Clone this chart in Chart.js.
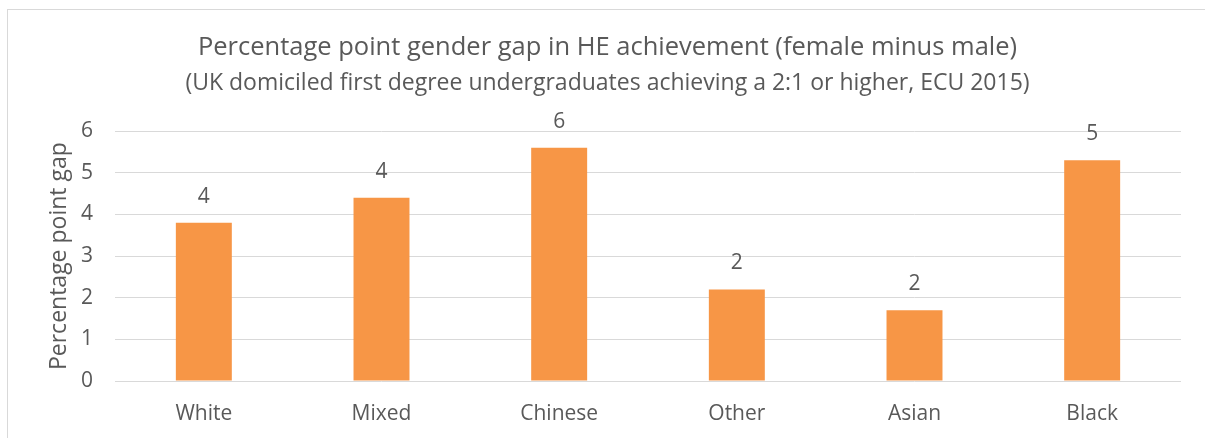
<!DOCTYPE html>
<html>
<head>
<meta charset="utf-8">
<script src="https://cdn.jsdelivr.net/npm/chart.js@4/dist/chart.umd.min.js"></script>
<style>
  body { margin: 0; background: #fff; }
  #wrap { width: 1205px; height: 438px; position: relative; }
</style>
</head>
<body>
<div id="wrap"><canvas id="gapChart" width="1205" height="438"></canvas></div>
<script>
const categories = ['White', 'Mixed', 'Chinese', 'Other', 'Asian', 'Black'];
const gapValues = [3.8, 4.4, 5.6, 2.2, 1.7, 5.3];
const yTicks = [0, 1, 2, 3, 4, 5, 6];

const textColor = '#595959';
const fontFamily = '"Open Sans", "Noto Sans", sans-serif';

// frame around the chart, like the exported Excel chart
const framePlugin = {
    id: 'frame',
    beforeDraw(chart) {
        const ctx = chart.ctx;
        ctx.save();
        ctx.fillStyle = '#fff';
        ctx.fillRect(0, 0, chart.width, chart.height);
        ctx.strokeStyle = '#d9d9d9';
        ctx.lineWidth = 1;
        ctx.strokeRect(7.5, 9.5, chart.width + 10, chart.height + 10);
        ctx.restore();
    }
};

// value labels above the bars (rounded, as in the original)
const valueLabels = {
    id: 'valueLabels',
    afterDatasetsDraw(chart) {
        const ctx = chart.ctx;
        const meta = chart.getDatasetMeta(0);
        ctx.save();
        ctx.fillStyle = textColor;
        ctx.font = '21px ' + fontFamily;
        ctx.textAlign = 'center';
        ctx.textBaseline = 'middle';
        meta.data.forEach((bar, i) => {
            ctx.fillText(Math.round(gapValues[i]), bar.x, bar.y - 26);
        });
        ctx.restore();
    }
};

const ctx = document.getElementById('gapChart').getContext('2d');
new Chart(ctx, {
    type: 'bar',
    data: {
        labels: categories,
        datasets: [{
            data: gapValues,
            backgroundColor: '#F79646',
            borderWidth: 0,
            barPercentage: 0.315,
            categoryPercentage: 1
        }]
    },
    options: {
        responsive: false,
        animation: false,
        layout: { padding: { top: 0, right: 0, bottom: 0, left: 10 } },
        plugins: {
            legend: { display: false },
            tooltip: { enabled: false },
            title: {
                display: true,
                text: 'Percentage point gender gap in HE achievement (female minus male)',
                color: textColor,
                font: { family: fontFamily, size: 25.5, weight: 'normal', lineHeight: 1.2 },
                padding: { top: 32, bottom: 0 }
            },
            subtitle: {
                display: true,
                text: '(UK domiciled first degree undergraduates achieving a 2:1 or higher, ECU 2015)',
                color: textColor,
                font: { family: fontFamily, size: 23, weight: 'normal', lineHeight: 1.2 },
                padding: { top: 7, bottom: 34 }
            }
        },
        scales: {
            x: {
                grid: { display: false },
                border: { display: false },
                ticks: {
                    color: textColor,
                    font: { family: fontFamily, size: 21 },
                    padding: 12
                },
                afterFit(scale) { scale.height = 57; }
            },
            y: {
                min: 0,
                max: 6,
                afterBuildTicks(scale) { scale.ticks = yTicks.map(v => ({ value: v })); },
                grid: { color: '#d9d9d9', lineWidth: 1, drawTicks: false },
                border: { display: false },
                ticks: {
                    color: textColor,
                    font: { family: fontFamily, size: 21 },
                    padding: 22
                },
                title: {
                    display: true,
                    text: 'Percentage point gap',
                    color: textColor,
                    font: { family: fontFamily, size: 23 },
                    padding: { top: 36, bottom: 0 }
                },
                afterFit(scale) { scale.width = 105; }
            },
            // empty axis on the right keeps the plot area off the right edge
            yRight: {
                position: 'right',
                display: true,
                grid: { display: false },
                border: { display: false },
                ticks: { display: false },
                afterFit(scale) { scale.width = 24; }
            }
        }
    },
    plugins: [framePlugin, valueLabels]
});
</script>
</body>
</html>
